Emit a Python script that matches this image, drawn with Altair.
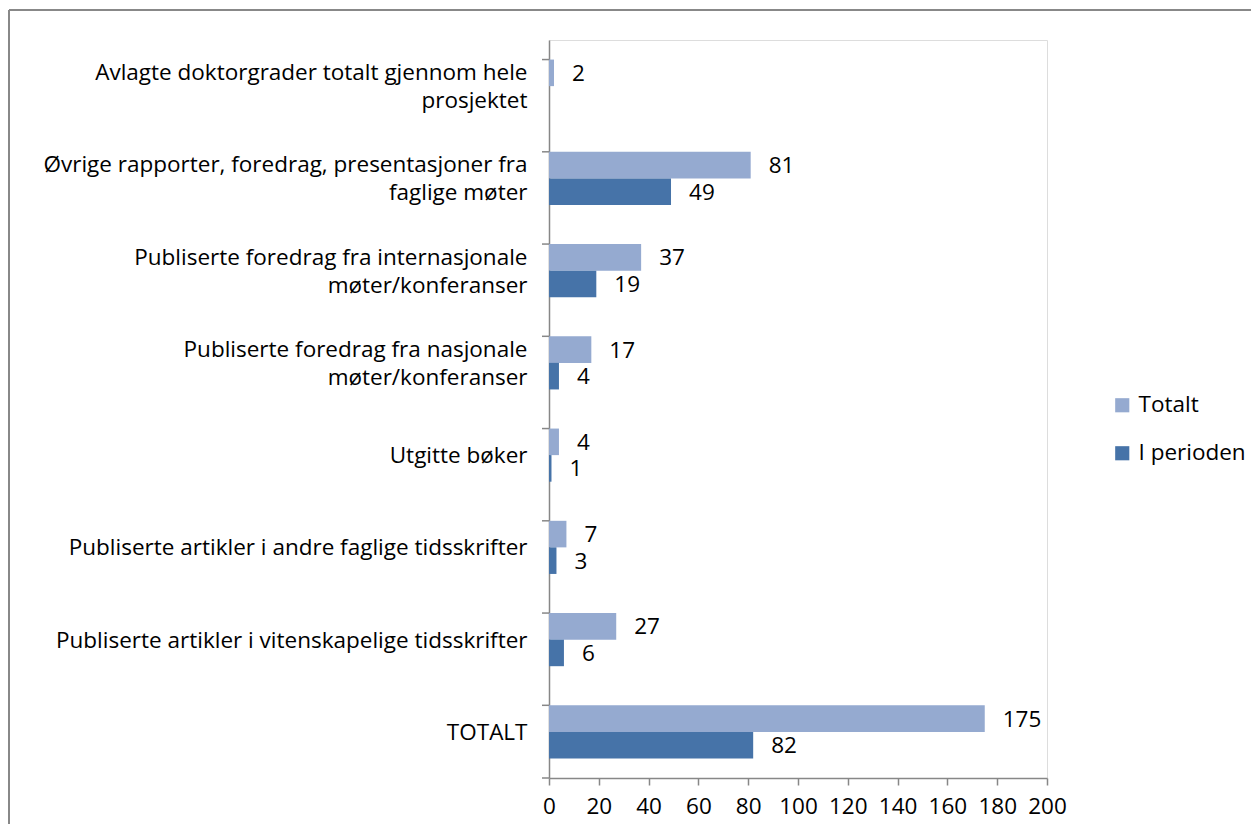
import altair as alt
import pandas as pd

categories = [
    "Avlagte doktorgrader totalt gjennom hele|prosjektet",
    "Øvrige rapporter, foredrag, presentasjoner fra|faglige møter",
    "Publiserte foredrag fra internasjonale|møter/konferanser",
    "Publiserte foredrag fra nasjonale|møter/konferanser",
    "Utgitte bøker",
    "Publiserte artikler i andre faglige tidsskrifter",
    "Publiserte artikler i vitenskapelige tidsskrifter",
    "TOTALT",
]
series = ["Totalt", "I perioden"]
totalt = [2, 81, 37, 17, 4, 7, 27, 175]
i_perioden = [None, 49, 19, 4, 1, 3, 6, 82]
x_ticks = [0, 20, 40, 60, 80, 100, 120, 140, 160, 180, 200]
colors = ["#95AAD0", "#4673A8"]

rows = []
for c, t, p in zip(categories, totalt, i_perioden):
    if t is not None:
        rows.append({"kategori": c, "serie": "Totalt", "verdi": t})
    if p is not None:
        rows.append({"kategori": c, "serie": "I perioden", "verdi": p})
df = pd.DataFrame(rows)

FONT = "Open Sans"
FS = 22.5
LH = 28
W, H = 498, 738
PAD_R = 204

y_enc = alt.Y(
    "kategori:N",
    sort=categories,
    scale=alt.Scale(paddingInner=0.424, paddingOuter=0.212),
    axis=alt.Axis(
        title=None,
        ticks=False,
        labelPadding=22,
        labelExpr="split(datum.label, '|')",
        labelFontSize=FS,
        labelFont=FONT,
        labelColor="#000000",
        labelLimit=700,
        labelLineHeight=LH,
        labelOffset={
            "condition": {"test": "indexof(datum.value, '|') >= 0", "value": -LH / 2 + 1},
            "value": 1,
        },
        domainColor="#878787",
        domainWidth=1.5,
    ),
)
yoff = alt.YOffset("serie:N", sort=series, scale=alt.Scale(paddingInner=0, paddingOuter=0))
x_enc = alt.X(
    "verdi:Q",
    scale=alt.Scale(domain=[0, 200], nice=False),
    axis=alt.Axis(
        title=None,
        values=x_ticks,
        grid=False,
        tickSize=7,
        tickColor="#878787",
        tickWidth=1.5,
        domainColor="#878787",
        domainWidth=1.5,
        labelPadding=10,
        labelFontSize=FS,
        labelFont=FONT,
        labelColor="#000000",
        labelFlush=False,
        labelOverlap=False,
    ),
)

bars = alt.Chart(df).mark_bar().encode(
    x=x_enc,
    y=y_enc,
    yOffset=yoff,
    color=alt.Color(
        "serie:N",
        sort=series,
        scale=alt.Scale(domain=series, range=colors),
        legend=alt.Legend(
            title=None,
            orient="none",
            legendX=562,
            legendY=354,
            symbolType="square",
            symbolSize=200,
            symbolStrokeWidth=0,
            labelFontSize=FS,
            labelFont=FONT,
            labelColor="#000000",
            rowPadding=25,
            labelOffset=5,
        ),
    ),
)

labels = alt.Chart(df).mark_text(
    align="left", baseline="middle", dx=18, dy=1, fontSize=FS, font=FONT, color="#000000"
).encode(
    x="verdi:Q",
    y=alt.Y("kategori:N", sort=categories),
    yOffset=alt.YOffset("serie:N", sort=series),
    text="verdi:Q",
)

ticks = alt.Chart(pd.DataFrame({"kategori": categories})).mark_rule(
    color="#878787", strokeWidth=1.5
).encode(
    y=alt.Y("kategori:N", sort=categories, bandPosition=0),
    x=alt.value(-7),
    x2=alt.value(0),
)
bottom_tick = alt.Chart(alt.Data(values=[{}])).mark_rule(
    color="#878787", strokeWidth=1.5
).encode(y=alt.value(H), x=alt.value(-7), x2=alt.value(0))

frame_left = alt.Chart(alt.Data(values=[{}])).mark_rule(
    color="#888888", strokeWidth=2
).encode(x=alt.value(-540), y=alt.value(-30), y2=alt.value(H + 46))
frame_top = alt.Chart(alt.Data(values=[{}])).mark_rule(
    color="#888888", strokeWidth=2
).encode(y=alt.value(-30), x=alt.value(-540), x2=alt.value(W + PAD_R))

chart = (
    alt.layer(bars, labels, ticks, bottom_tick, frame_left, frame_top)
    .properties(
        width=W,
        height=H,
        autosize=alt.AutoSizeParams(type="none"),
        padding={"left": 541, "top": 32, "right": PAD_R, "bottom": 46},
    )
    .configure_view(stroke=None)
    .configure(background="#ffffff")
)

chart.save("out.html", embed_options={"renderer": "svg", "actions": False})
